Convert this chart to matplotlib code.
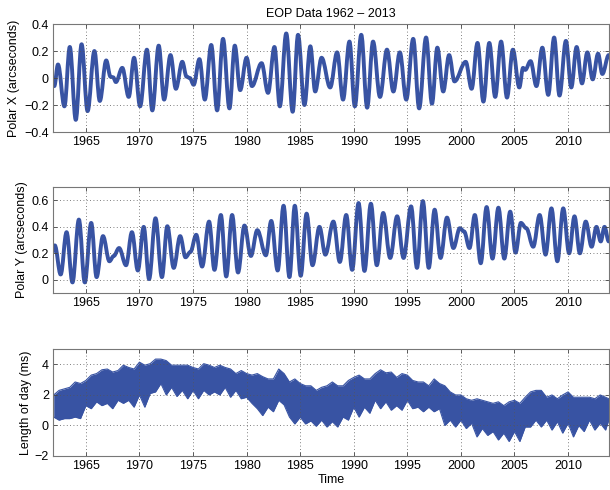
import numpy as np
import matplotlib
matplotlib.use('Agg')
import matplotlib.pyplot as plt
from matplotlib.path import Path
from matplotlib.patches import PathPatch
from matplotlib.ticker import FuncFormatter


# polar motion x: extrema (year, arcseconds)
x_years = [1961.94, 1962.05, 1962.4, 1963.0, 1963.5, 1964.06, 1964.6, 1965.16, 1965.8, 1966.3,
           1966.9, 1967.3, 1967.55, 1967.8, 1968.4, 1969.0, 1969.5, 1970.06, 1970.7, 1971.2,
           1971.8, 1972.3, 1972.9, 1973.4, 1974.0, 1974.4, 1974.7, 1975.06, 1975.6, 1976.1,
           1976.7, 1977.25, 1977.8, 1978.4, 1978.9, 1979.4, 1980.0, 1980.5, 1981.4, 1982.0,
           1982.6, 1983.1, 1983.7, 1984.3, 1984.8, 1985.4, 1985.95, 1986.4, 1987.0, 1987.8,
           1988.45, 1989.0, 1989.6, 1990.1, 1990.7, 1991.25, 1991.8, 1992.45, 1993.1, 1993.7,
           1994.3, 1994.9, 1995.55, 1996.1, 1996.75, 1997.3, 1997.8, 1998.35, 1998.9, 1999.4,
           2000.45, 2001.0, 2001.55, 2002.1, 2002.65, 2003.2, 2003.75, 2004.3, 2004.85, 2005.45,
           2005.8, 2006.0, 2006.5, 2007.05, 2007.6, 2008.15, 2008.7, 2009.2, 2009.8, 2010.3,
           2010.8, 2011.3, 2011.8, 2012.3, 2012.8, 2013.2, 2013.8]
x_vals = [-0.02, -0.06, 0.10, -0.21, 0.23, -0.31, 0.25, -0.245, 0.20, -0.17,
          0.13, 0.01, 0.005, -0.03, 0.075, -0.14, 0.15, -0.21, 0.21, -0.24,
          0.24, -0.16, 0.17, -0.08, 0.12, 0.01, 0.0, -0.05, 0.14, -0.16,
          0.245, -0.24, 0.29, -0.225, 0.24, -0.09, 0.15, -0.06, 0.11, -0.11,
          0.23, -0.21, 0.33, -0.25, 0.32, -0.20, 0.235, -0.10, 0.15, -0.07,
          0.19, -0.16, 0.27, -0.21, 0.32, -0.22, 0.27, -0.14, 0.21, -0.10,
          0.19, -0.16, 0.29, -0.225, 0.30, -0.19, 0.225, -0.10, 0.17, -0.025,
          0.12, -0.08, 0.26, -0.175, 0.26, -0.14, 0.27, -0.145, 0.21, -0.07,
          0.075, 0.06, 0.125, -0.06, 0.225, -0.125, 0.30, -0.13, 0.275, -0.07,
          0.23, -0.04, 0.19, -0.01, 0.18, 0.03, 0.17]

# polar motion y: extrema (year, arcseconds)
y_years = [1961.94, 1962.1, 1962.65, 1963.2, 1963.75, 1964.35, 1964.9, 1965.5, 1966.0, 1966.6,
           1967.2, 1967.6, 1968.1, 1968.75, 1969.3, 1969.85, 1970.4, 1970.9, 1971.5, 1972.1,
           1972.6, 1973.2, 1973.8, 1974.3, 1974.75, 1975.3, 1975.85, 1976.5, 1977.0, 1977.6,
           1978.1, 1978.65, 1979.2, 1979.8, 1980.4, 1981.0, 1981.8, 1982.3, 1982.9, 1983.45,
           1984.0, 1984.5, 1985.05, 1985.6, 1986.15, 1986.8, 1987.35, 1988.1, 1988.7, 1989.3,
           1989.85, 1990.45, 1991.0, 1991.6, 1992.15, 1992.75, 1993.4, 1994.05, 1994.65, 1995.35,
           1995.9, 1996.45, 1997.0, 1997.55, 1998.1, 1998.7, 1999.3, 1999.9, 2000.3, 2000.8,
           2001.3, 2001.85, 2002.4, 2002.95, 2003.5, 2004.05, 2004.6, 2005.1, 2005.6, 2006.1,
           2006.75, 2007.35, 2007.9, 2008.45, 2009.0, 2009.55, 2010.1, 2010.6, 2011.1, 2011.65,
           2012.2, 2012.65, 2013.05, 2013.4, 2013.8]
y_vals = [0.215, 0.26, 0.04, 0.36, -0.02, 0.455, -0.02, 0.43, 0.02, 0.33,
          0.14, 0.18, 0.24, 0.11, 0.36, 0.07, 0.40, 0.005, 0.465, 0.02,
          0.405, 0.09, 0.33, 0.17, 0.21, 0.34, 0.10, 0.44, 0.075, 0.49,
          0.025, 0.49, 0.055, 0.41, 0.18, 0.375, 0.185, 0.445, 0.07, 0.56,
          0.02, 0.56, 0.03, 0.50, 0.11, 0.40, 0.19, 0.44, 0.135, 0.49,
          0.075, 0.58, 0.067, 0.575, 0.11, 0.505, 0.165, 0.48, 0.165, 0.555,
          0.09, 0.595, 0.09, 0.53, 0.165, 0.47, 0.24, 0.39, 0.365, 0.24,
          0.49, 0.125, 0.55, 0.16, 0.545, 0.16, 0.515, 0.205, 0.43, 0.39,
          0.25, 0.49, 0.19, 0.54, 0.14, 0.54, 0.20, 0.48, 0.20, 0.44,
          0.25, 0.40, 0.29, 0.40, 0.29]

# length of day: upper / lower envelope of the daily scatter, every half year (ms)
lod_years = list(np.arange(1962.0, 2014.0, 0.5)) + [2013.8]
lod_upper = [2.0, 2.3, 2.4, 2.5, 2.85, 2.75, 2.95, 3.3, 3.4, 3.65,
             3.7, 3.5, 3.6, 3.95, 3.8, 3.7, 4.15, 3.95, 4.05, 4.35,
             4.35, 4.25, 3.95, 3.95, 3.95, 3.95, 3.8, 3.7, 4.05, 3.95,
             3.8, 3.95, 3.8, 3.7, 3.4, 3.6, 3.4, 3.3, 3.4, 3.2,
             3.05, 3.05, 3.7, 3.4, 2.85, 3.05, 2.75, 2.6, 2.6, 2.3,
             2.5, 2.6, 2.85, 2.6, 2.6, 2.95, 3.15, 3.3, 3.05, 3.05,
             3.4, 3.65, 3.45, 3.5, 3.15, 3.4, 3.3, 2.95, 2.85, 2.85,
             2.6, 3.05, 2.75, 2.6, 2.2, 2.0, 2.0, 1.75, 1.65, 1.75,
             1.65, 1.55, 1.45, 1.55, 1.3, 1.55, 1.65, 1.45, 1.85, 2.2,
             2.3, 2.3, 1.85, 2.0, 1.75, 2.0, 2.2, 1.85, 1.85, 1.85,
             1.85, 1.75, 2.0, 1.85, 1.75]
lod_lower = [0.55, 0.35, 0.45, 0.45, 0.55, 0.45, 1.3, 1.1, 1.55, 1.3,
             1.45, 1.1, 1.65, 1.45, 1.65, 1.2, 2.0, 1.2, 2.1, 2.2,
             2.75, 2.0, 2.5, 1.9, 2.3, 1.75, 2.3, 1.75, 2.3, 2.0,
             2.2, 2.0, 2.5, 1.85, 2.3, 1.75, 1.85, 1.45, 1.1, 0.65,
             1.2, 0.9, 1.65, 1.35, 0.55, 0.1, 0.55, 0.1, 0.3, -0.05,
             0.35, -0.1, 0.25, -0.1, 0.55, 0.35, 1.2, 0.55, 1.2, 0.8,
             1.65, 1.1, 1.55, 1.0, 1.3, 1.0, 1.65, 1.1, 1.2, 0.9,
             1.2, 0.9, 1.1, 0.0, 0.35, -0.1, 0.35, -0.2, 0.15, -0.75,
             -0.2, -0.65, -0.4, -0.95, -0.5, -1.05, -0.4, -1.05, -0.1, -0.1,
             0.35, -0.1, 0.35, -0.3, 0.25, -0.5, 0.15, -0.75, 0.0, -0.4,
             0.35, -0.3, 0.15, -0.3, 0.35]

xticks = [1965, 1970, 1975, 1980, 1985, 1990, 1995, 2000, 2005, 2010]
xlim = (1961.94, 2013.8)

BLUE = '#3853a3'
FS = 9
plt.rcParams['font.family'] = ['Liberation Sans', 'DejaVu Sans']
plt.rcParams['font.size'] = FS


def wobble_path(t, v, k=0.364):
    # smooth curve through the extrema: flat tangent at every turning point
    verts = [(t[0], v[0])]
    codes = [Path.MOVETO]
    for i in range(len(t) - 1):
        d = t[i + 1] - t[i]
        verts += [(t[i] + k * d, v[i]), (t[i + 1] - k * d, v[i + 1]), (t[i + 1], v[i + 1])]
        codes += [Path.CURVE4] * 3
    return Path(verts, codes)


def style_axes(ax, ylim, yticks, ylabel, label_x):
    ax.set_xlim(*xlim)
    ax.set_ylim(*ylim)
    ax.set_xticks(xticks)
    ax.set_yticks(yticks)
    ax.yaxis.set_major_formatter(FuncFormatter(lambda v, p: ('%g' % v).replace('-', '\u2212')))
    ax.grid(True, color='#555555', linestyle=(0, (1, 3)), linewidth=0.6)
    ax.tick_params(direction='in', top=True, right=True, length=3, width=0.6,
                   color='#444444', labelsize=FS, pad=3)
    for s in ax.spines.values():
        s.set_color('#777777')
        s.set_linewidth(0.8)
    ax.set_ylabel(ylabel, fontsize=FS)
    ax.yaxis.set_label_coords(label_x, 0.5)


fig = plt.figure(figsize=(6.1, 4.9), dpi=100)
left, width = 0.087, 0.911
ax1 = fig.add_axes([left, 0.7306, width, 0.2204])
ax2 = fig.add_axes([left, 0.402, width, 0.216])
ax3 = fig.add_axes([left, 0.0694, width, 0.218])

ax1.add_patch(PathPatch(wobble_path(x_years, x_vals), fill=False, edgecolor=BLUE, lw=2.8,
                        joinstyle='round', capstyle='round'))
style_axes(ax1, (-0.4, 0.4), [-0.4, -0.2, 0, 0.2, 0.4], 'Polar X (arcseconds)', -0.059)
ax1.set_title('EOP Data 1962 \u2013 2013', fontsize=FS, pad=5)

ax2.add_patch(PathPatch(wobble_path(y_years, y_vals), fill=False, edgecolor=BLUE, lw=2.8,
                        joinstyle='round', capstyle='round'))
style_axes(ax2, (-0.1, 0.7), [0, 0.2, 0.4, 0.6], 'Polar Y (arcseconds)', -0.045)

ax3.fill_between(lod_years, lod_lower, lod_upper, color=BLUE, lw=0)
ax3.plot(lod_years, lod_upper, color=BLUE, lw=0.8)
ax3.plot(lod_years, lod_lower, color=BLUE, lw=0.8)
style_axes(ax3, (-2, 5), [-2, 0, 2, 4], 'Length of day (ms)', -0.038)
ax3.set_xlabel('Time', fontsize=FS, labelpad=1)

fig.savefig('out.png', dpi=100)
